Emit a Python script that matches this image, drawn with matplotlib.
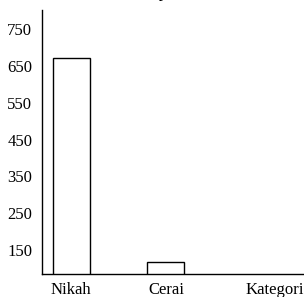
import matplotlib
matplotlib.use("Agg")
import matplotlib.pyplot as plt

# data
kategori = ["Nikah", "Cerai"]
jumlah = [672, 115]
yticks = [150, 250, 350, 450, 550, 650, 750]

plt.rcParams['font.family'] = ['Liberation Serif', 'DejaVu Serif']
fs = 12

fig = plt.figure(figsize=(3.04, 2.97), dpi=100)
ax = fig.add_axes([42/304, 23.5/297, 262/304, 263.5/297])

x = list(range(len(kategori)))
ax.bar(x, jumlah, width=0.39, bottom=0, color='white', edgecolor='black', linewidth=1.0)

ax.set_xlim(-0.31, 2.46)
ax.set_ylim(85, 803)
ax.set_yticks(yticks)
ax.set_yticklabels([str(v) for v in yticks], fontsize=fs)
ax.set_xticks(x)
ax.set_xticklabels(kategori, fontsize=fs)
ax.tick_params(axis='both', length=0)
ax.tick_params(axis='y', pad=7)
ax.tick_params(axis='x', pad=6)

# axis name sits on the same line as the category labels
ax.annotate("Kategori", xy=(2.15, 0), xycoords=('data', 'axes fraction'),
            xytext=(0, -6), textcoords='offset points',
            ha='center', va='top', fontsize=fs)

for s in ['top', 'right']:
    ax.spines[s].set_visible(False)
ax.spines['left'].set_linewidth(1.0)
ax.spines['bottom'].set_linewidth(1.0)

# title cut off at the top of the scan
fig.text(0.47, 1.01, "Grafik Rekapitulasi", ha='center', va='baseline', fontsize=fs)

fig.savefig("out.png", dpi=100)
